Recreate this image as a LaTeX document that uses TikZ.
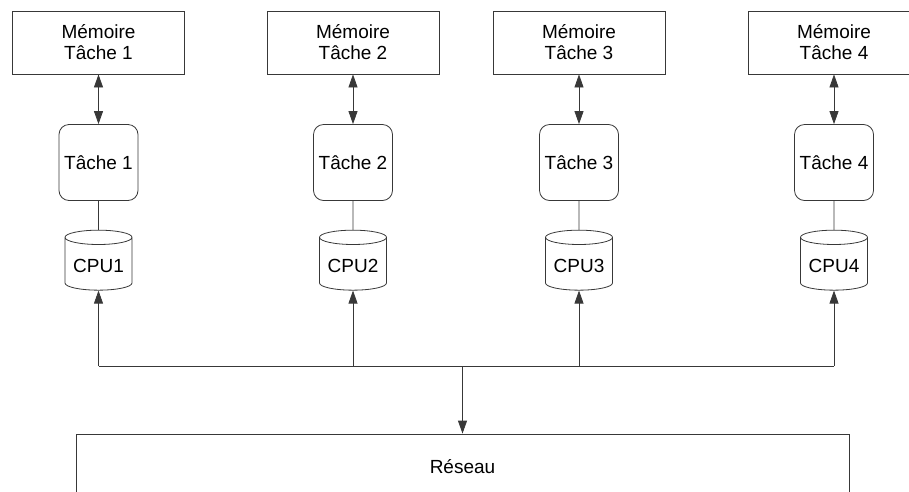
\documentclass[tikz,border=0pt]{standalone}
\usepackage{fontspec}
\setmainfont{Liberation Sans}
\usetikzlibrary{shapes.geometric,arrows.meta}
\definecolor{linegray}{HTML}{383838}

\begin{document}
\begin{tikzpicture}[x=1pt, y=-1pt, node distance=120pt,
                    line width=0.8pt, draw=linegray,
                    txt/.style={font=\fontsize{19}{21}\selectfont},
                    mem node/.style={rectangle,draw,txt,align=center,minimum width=172pt,minimum height=63pt},
                    task node/.style={rectangle,draw,txt,rounded corners=10pt,minimum width=79pt,minimum height=76pt},
                    cpu node/.style={cylinder,shape border rotate=90,aspect=0.25,draw,txt,minimum width=67pt,minimum height=60pt},
                    arr/.style={-{Triangle[length=13pt,width=9pt]}},
                    darr/.style={{Triangle[length=13pt,width=9pt]}-{Triangle[length=13pt,width=9pt]}}]

  \useasboundingbox (0,0) rectangle (909,491);
  \clip (0,0) rectangle (909,491);

  \node[mem node] (mem1) at (98.5,42.5) {Mémoire\\Tâche 1};
  \node[mem node] (mem2) at (353,42.5) {Mémoire\\Tâche 2};
  \node[mem node] (mem3) at (579,42.5) {Mémoire\\Tâche 3};
  \node[mem node] (mem4) at (834,42.5) {Mémoire\\Tâche 4};

  \node[task node] (task1) [below of=mem1] {Tâche 1};
  \node[task node] (task2) [below of=mem2] {Tâche 2};
  \node[task node] (task3) [below of=mem3] {Tâche 3};
  \node[task node] (task4) [below of=mem4] {Tâche 4};

  \node[cpu node] (cpu1) [below of=task1, node distance=103pt] {CPU1};
  \node[cpu node] (cpu2) [below of=task2, node distance=103pt] {CPU2};
  \node[cpu node] (cpu3) [below of=task3, node distance=103pt] {CPU3};
  \node[cpu node] (cpu4) [below of=task4, node distance=103pt] {CPU4};

  \node[rectangle,draw,txt,minimum width=773pt,minimum height=66pt] (reseau) at (462.5,467) {Réseau};

  % bus
  \coordinate (bus1) at (98.5,366);
  \coordinate (bus2) at (353,366);
  \coordinate (bus3) at (579,366);
  \coordinate (bus4) at (834,366);
  \coordinate (bus) at (reseau.north |- bus1);

  \draw[darr] (mem1) -- (task1);
  \draw[darr] (mem2) -- (task2);
  \draw[darr] (mem3) -- (task3);
  \draw[darr] (mem4) -- (task4);

  \draw (task1) -- (cpu1);
  \draw (task2) -- (cpu2);
  \draw (task3) -- (cpu3);
  \draw (task4) -- (cpu4);

  \draw (bus1) -- (bus4);
  \draw[arr] (bus1) -- (cpu1.south);
  \draw[arr] (bus2) -- (cpu2.south);
  \draw[arr] (bus3) -- (cpu3.south);
  \draw[arr] (bus4) -- (cpu4.south);
  \draw[arr] (bus) -- (reseau.north);

\end{tikzpicture}
\end{document}
